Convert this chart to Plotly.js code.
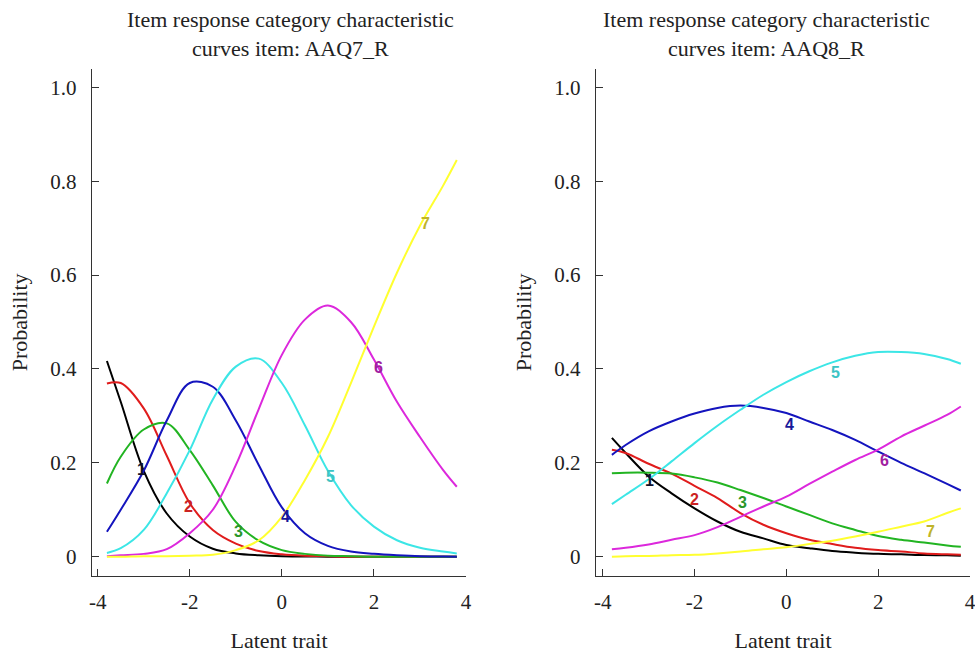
<!DOCTYPE html>
<html>
<head>
<meta charset="utf-8">
<script src="https://cdn.plot.ly/plotly-3.0.1.min.js"></script>
<style>html,body{margin:0;padding:0;background:#fff;}#chart{width:975px;height:653px;}</style>
</head>
<body>
<div id="chart"></div>
<script>
// Latent trait grid (shared by both items)
const theta = [-3.8, -3.5, -3, -2.5, -2, -1.5, -1, -0.5, 0, 0.5, 1, 1.5, 2, 2.5, 3, 3.5, 3.8];

// Item AAQ7_R : category probabilities 1..7
const aaq7_c1 = [0.417, 0.33, 0.183, 0.092, 0.043, 0.017, 0.007, 0.003, 0.001, 0.0005, 0, 0, 0, 0, 0, 0, 0];
const aaq7_c2 = [0.369, 0.37, 0.316, 0.215, 0.114, 0.057, 0.028, 0.012, 0.005, 0.002, 0.001, 0, 0, 0, 0, 0, 0];
const aaq7_c3 = [0.156, 0.213, 0.271, 0.284, 0.227, 0.152, 0.074, 0.034, 0.014, 0.006, 0.002, 0.001, 0, 0, 0, 0, 0];
const aaq7_c4 = [0.053, 0.10, 0.183, 0.29, 0.37, 0.362, 0.29, 0.195, 0.105, 0.05, 0.023, 0.011, 0.006, 0.003, 0.001, 0.0005, 0];
const aaq7_c5 = [0.008, 0.018, 0.057, 0.135, 0.227, 0.335, 0.405, 0.422, 0.37, 0.28, 0.183, 0.11, 0.064, 0.035, 0.019, 0.011, 0.007];
const aaq7_c6 = [0.001, 0.003, 0.006, 0.016, 0.05, 0.1, 0.195, 0.315, 0.43, 0.505, 0.535, 0.5, 0.42, 0.33, 0.255, 0.185, 0.149];
const aaq7_c7 = [0, 0, 0.001, 0.001, 0.002, 0.004, 0.014, 0.035, 0.085, 0.163, 0.255, 0.37, 0.49, 0.605, 0.705, 0.79, 0.845];

// Item AAQ8_R : category probabilities 1..7
const aaq8_c1 = [0.253, 0.221, 0.171, 0.135, 0.103, 0.075, 0.053, 0.039, 0.025, 0.018, 0.012, 0.0085, 0.006, 0.005, 0.0035, 0.003, 0.002];
const aaq8_c2 = [0.228, 0.221, 0.198, 0.177, 0.151, 0.125, 0.093, 0.068, 0.05, 0.036, 0.027, 0.019, 0.014, 0.011, 0.007, 0.005, 0.004];
const aaq8_c3 = [0.178, 0.179, 0.179, 0.177, 0.169, 0.158, 0.142, 0.125, 0.107, 0.089, 0.071, 0.057, 0.044, 0.036, 0.03, 0.024, 0.021];
const aaq8_c4 = [0.217, 0.238, 0.267, 0.288, 0.305, 0.317, 0.322, 0.317, 0.306, 0.288, 0.27, 0.249, 0.224, 0.2, 0.178, 0.155, 0.141];
const aaq8_c5 = [0.112, 0.132, 0.165, 0.203, 0.242, 0.279, 0.313, 0.345, 0.372, 0.395, 0.414, 0.428, 0.436, 0.436, 0.432, 0.421, 0.411];
const aaq8_c6 = [0.016, 0.019, 0.026, 0.036, 0.046, 0.063, 0.085, 0.107, 0.128, 0.155, 0.181, 0.206, 0.228, 0.256, 0.279, 0.302, 0.32];
const aaq8_c7 = [0.0, 0.001, 0.0015, 0.003, 0.004, 0.007, 0.011, 0.016, 0.02, 0.027, 0.034, 0.043, 0.053, 0.064, 0.075, 0.093, 0.103];

// Category curve labels: position (theta, probability)
const categories = ["1", "2", "3", "4", "5", "6", "7"];
const aaq7_labelX = [-3.04, -2.03, -0.95, 0.07, 1.05, 2.1, 3.11];
const aaq7_labelY = [0.185, 0.107, 0.053, 0.085, 0.17, 0.403, 0.71];
const aaq8_labelX = [-2.99, -2.01, -0.95, 0.07, 1.07, 2.13, 3.14];
const aaq8_labelY = [0.163, 0.121, 0.115, 0.282, 0.392, 0.204, 0.053];

// Ticks
const xTickVals = [-4, -2, 0, 2, 4];
const xTickText = ["-4", "-2", "0", "2", "4"];
const yTickVals = [0, 0.2, 0.4, 0.6, 0.8, 1.0];
const yTickText = ["0", "0.2", "0.4", "0.6", "0.8", "1.0"];

const titles = ["Item response category characteristic<br>curves item: AAQ7_R",
                "Item response category characteristic<br>curves item: AAQ8_R"];

const lineColors = ["#000000", "#e01c1c", "#22b422", "#1414be", "#3ce6e6", "#dc28dc", "#ffff30"];
const labelColors = ["#10102a", "#cc2222", "#2a962a", "#18189a", "#3cc4c4", "#a020a0", "#c0b428"];

const item7 = [aaq7_c1, aaq7_c2, aaq7_c3, aaq7_c4, aaq7_c5, aaq7_c6, aaq7_c7];
const item8 = [aaq8_c1, aaq8_c2, aaq8_c3, aaq8_c4, aaq8_c5, aaq8_c6, aaq8_c7];

const traces = [];
item7.forEach((ys, i) => traces.push({
  x: theta, y: ys, xaxis: 'x', yaxis: 'y', type: 'scatter', mode: 'lines',
  line: {color: lineColors[i], width: 2, shape: 'spline', smoothing: 1},
  name: categories[i], showlegend: false, hoverinfo: 'x+y'
}));
item8.forEach((ys, i) => traces.push({
  x: theta, y: ys, xaxis: 'x2', yaxis: 'y2', type: 'scatter', mode: 'lines',
  line: {color: lineColors[i], width: 2, shape: 'spline', smoothing: 1},
  name: categories[i], showlegend: false, hoverinfo: 'x+y'
}));

const serif = "Liberation Serif, Times New Roman, serif";
const W = 975, H = 653;

const annotations = [];
categories.forEach((c, i) => {
  annotations.push({x: aaq7_labelX[i], y: aaq7_labelY[i], xref: 'x', yref: 'y', text: '<b>' + c + '</b>',
    showarrow: false, font: {family: 'Liberation Sans, Arial, sans-serif', size: 16, color: labelColors[i]}});
  annotations.push({x: aaq8_labelX[i], y: aaq8_labelY[i], xref: 'x2', yref: 'y2', text: '<b>' + c + '</b>',
    showarrow: false, font: {family: 'Liberation Sans, Arial, sans-serif', size: 16, color: labelColors[i]}});
});
annotations.push({x: 290.8 / W, y: 1 - 34 / H, xref: 'paper', yref: 'paper', text: titles[0], showarrow: false,
  xanchor: 'center', yanchor: 'middle', align: 'center', font: {family: serif, size: 22, color: '#222'}});
annotations.push({x: 766.7 / W, y: 1 - 34 / H, xref: 'paper', yref: 'paper', text: titles[1], showarrow: false,
  xanchor: 'center', yanchor: 'middle', align: 'center', font: {family: serif, size: 22, color: '#222'}});

function xAxis(domain, range) {
  return {
    domain: domain, range: range, autorange: false,
    showline: true, linecolor: '#333', linewidth: 1.3, mirror: false,
    ticks: 'inside', ticklen: 7, tickwidth: 1, tickcolor: '#333',
    tickmode: 'array', tickvals: xTickVals, ticktext: xTickText,
    ticklabelstandoff: 7, ticklabeloverflow: 'allow',
    showgrid: false, zeroline: false,
    tickfont: {family: serif, size: 21, color: '#222'},
    title: {text: 'Latent trait', font: {family: serif, size: 22, color: '#222'}, standoff: 19},
    automargin: false, fixedrange: true
  };
}
function yAxis(domain, anchor) {
  return {
    domain: domain, range: [-0.0405, 1.039], autorange: false, anchor: anchor,
    showline: true, linecolor: '#333', linewidth: 1.3, mirror: false,
    ticks: 'inside', ticklen: 7, tickwidth: 1, tickcolor: '#333',
    tickmode: 'array', tickvals: yTickVals, ticktext: yTickText,
    ticklabelstandoff: 10, ticklabeloverflow: 'allow',
    showgrid: false, zeroline: false,
    tickfont: {family: serif, size: 21, color: '#222'},
    title: {text: 'Probability', font: {family: serif, size: 22, color: '#222'}, standoff: 16},
    automargin: false, fixedrange: true
  };
}

const yDom = [1 - 575.7 / H, 1 - 69 / H];
const layout = {
  width: W, height: H,
  margin: {l: 0, r: 0, t: 0, b: 0, pad: 0},
  paper_bgcolor: '#ffffff', plot_bgcolor: '#ffffff',
  showlegend: false,
  font: {family: serif, color: '#222'},
  xaxis: Object.assign(xAxis([92 / W, 466 / W], [-4.124, 4]), {anchor: 'y'}),
  yaxis: yAxis(yDom, 'x'),
  xaxis2: Object.assign(xAxis([596 / W, 970 / W], [-4.146, 4]), {anchor: 'y2'}),
  yaxis2: yAxis(yDom, 'x2'),
  annotations: annotations
};

Plotly.newPlot('chart', traces, layout, {displayModeBar: false, staticPlot: true});
</script>
</body>
</html>
